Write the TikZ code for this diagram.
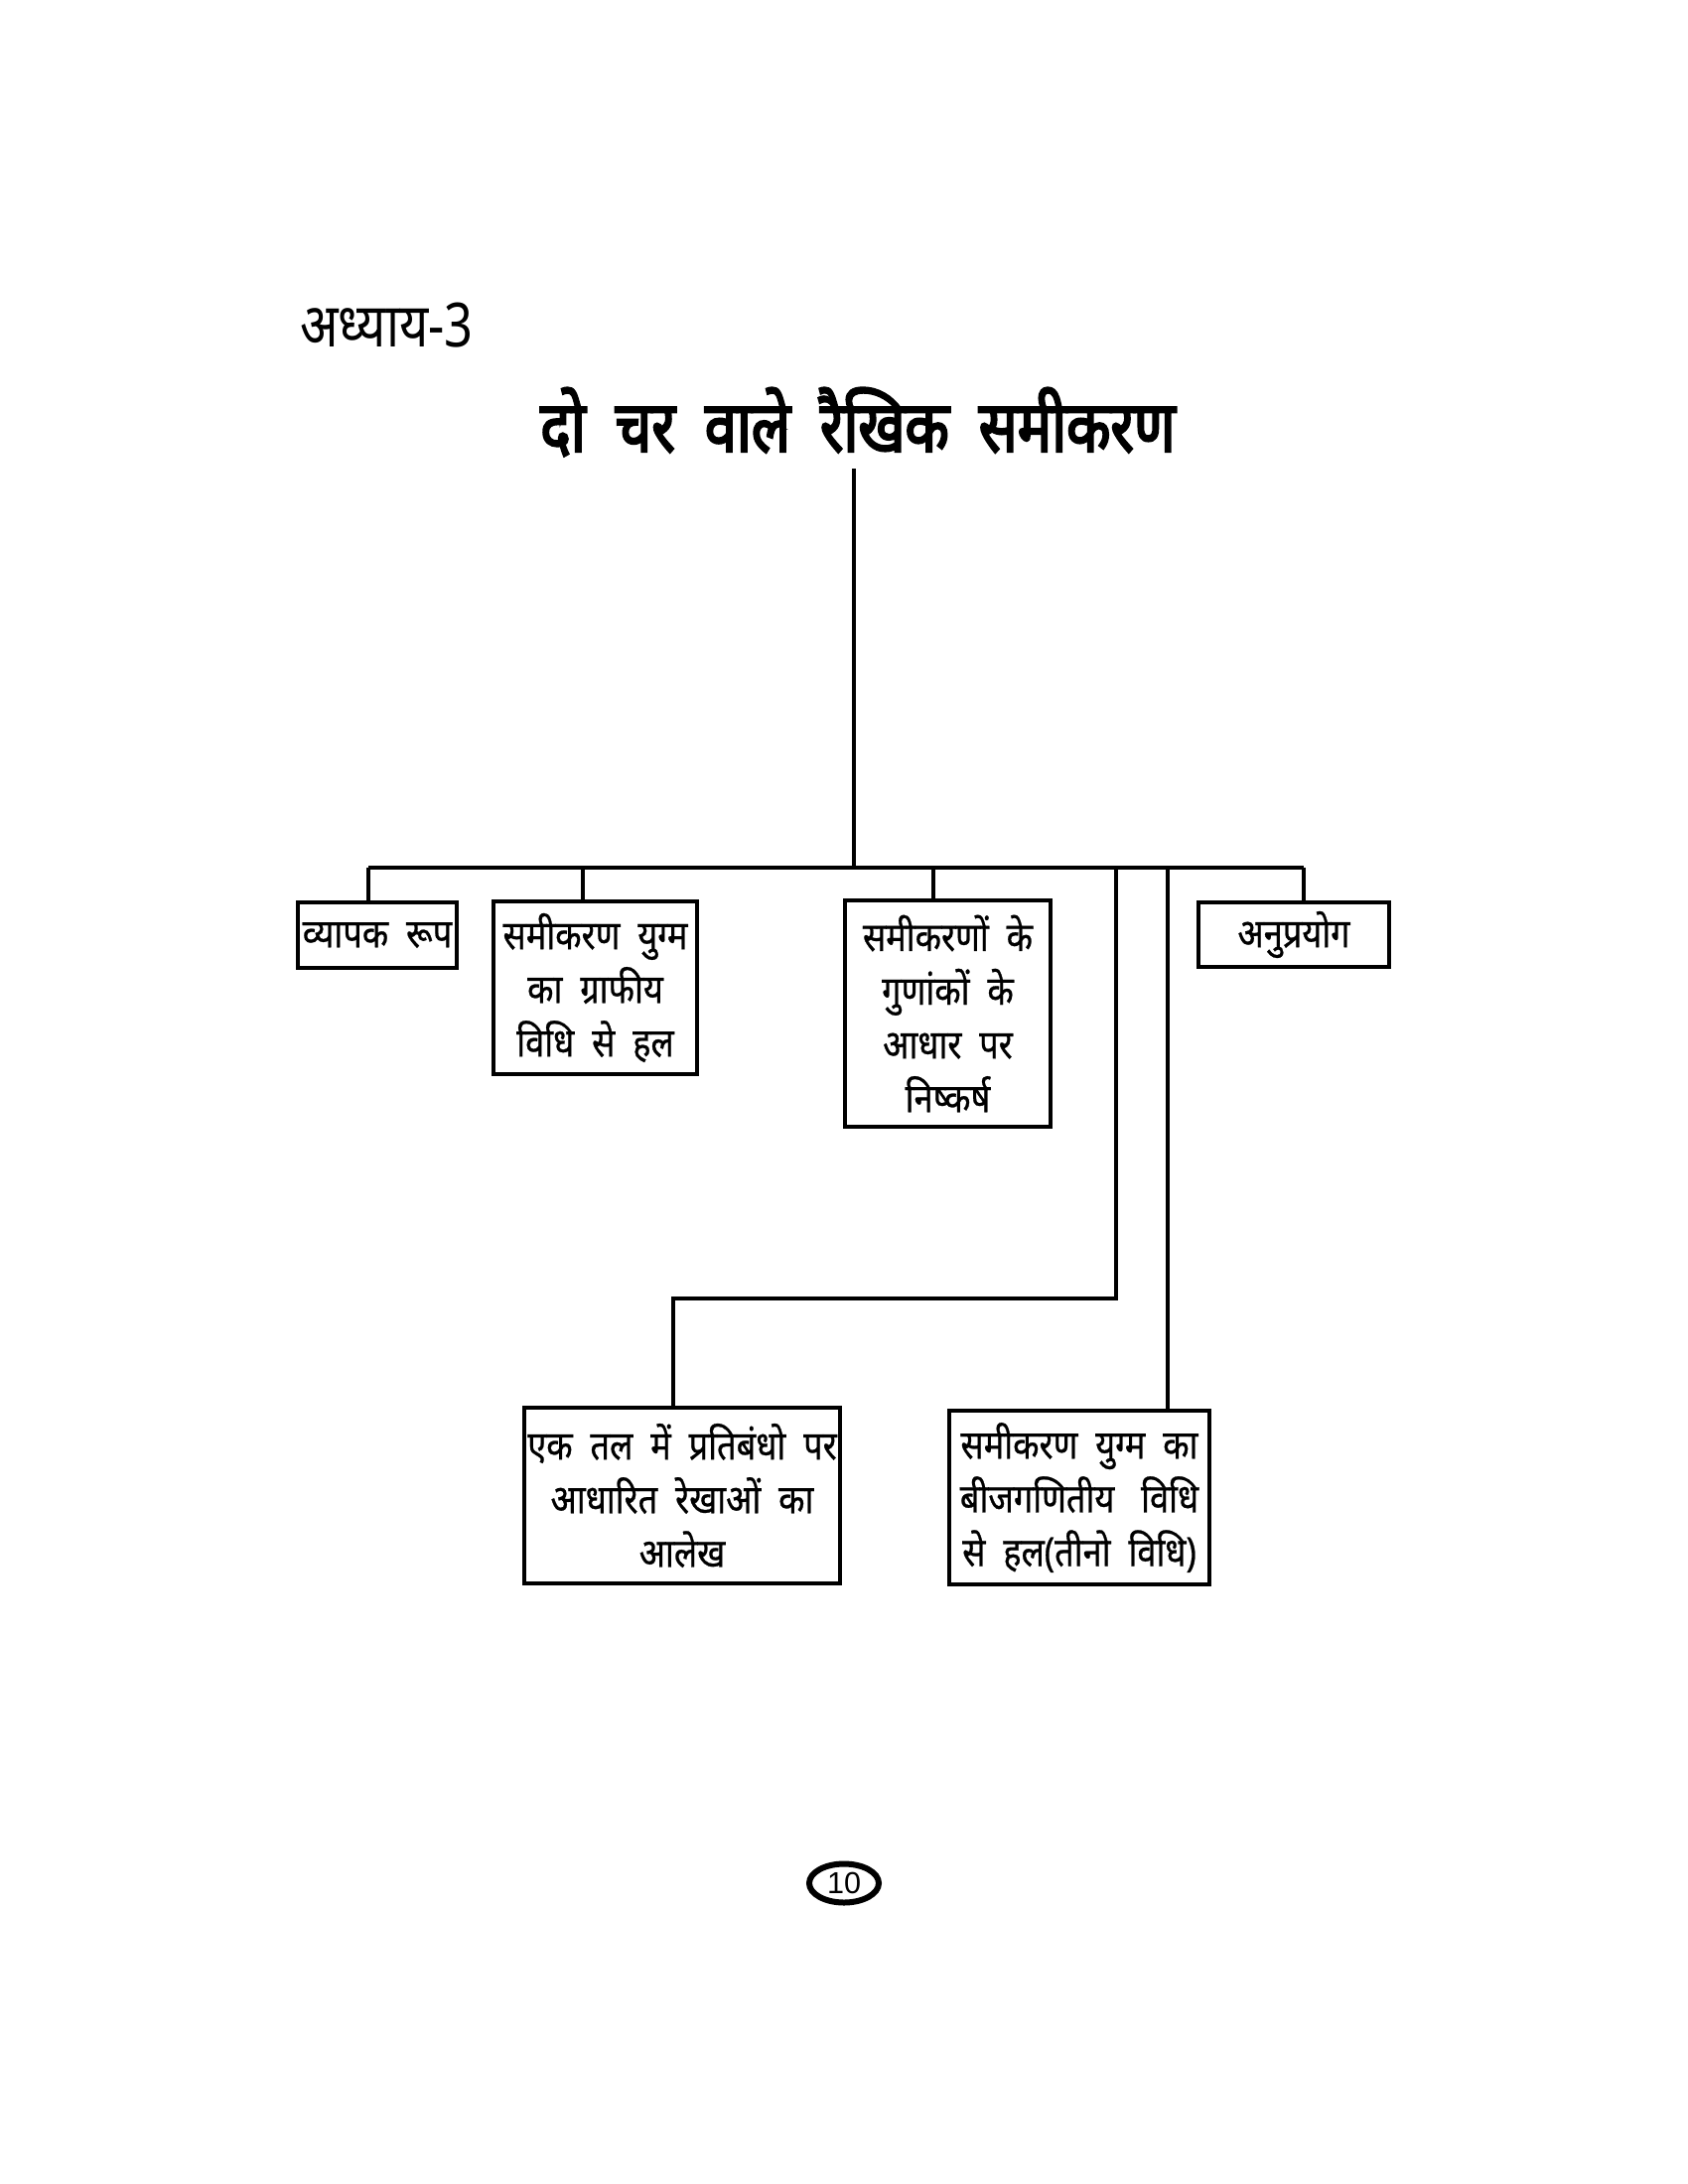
\documentclass[tikz,border=0pt]{standalone}
\usepackage{fontspec}
\usetikzlibrary{shapes.geometric}
\newfontfamily\hindi[Script=Devanagari, FakeStretch=0.85, FakeBold=0.6]{Noto Sans}
\newfontfamily\hindihead[Script=Devanagari, FakeStretch=0.82]{Noto Sans}
\newfontfamily\hindititle[Script=Devanagari, FakeStretch=0.8, FakeBold=3]{Noto Sans}
\newfontfamily\numfont{Liberation Sans}

\begin{document}
\begin{tikzpicture}[x=0.1mm, y=-0.1mm,
  box/.style={draw, line width=0.4mm, align=center, inner sep=0pt,
    font=\hindi\fontsize{11.5}{15.4}\selectfont},
  link/.style={line width=0.35mm}]
  \useasboundingbox (0,0) rectangle (1700,2200);
  % heading
  \node[anchor=base west, font=\hindihead\fontsize{17.5}{19}\selectfont] (chapter) at (290,349) {अध्याय-3};
  \node[anchor=base, font=\hindititle\fontsize{20.5}{24}\selectfont] (title) at (864,455)
    {दो\ \ चर\ \ वाले\ \ रैखिक\ \ समीकरण};
  % boxes
  \node[box, minimum width=16mm, minimum height=6.6mm] (form) at (380,942) {व्यापक\ \ रूप};
  \node[box, minimum width=20.5mm, minimum height=17.4mm] (graph) at (599.5,995)
    {समीकरण\ \ युग्म\\का\ \ ग्राफीय\\विधि\ \ से\ \ हल};
  \node[box, minimum width=20.7mm, minimum height=22.8mm] (coeff) at (954.5,1021)
    {समीकरणों\ \ के\\गुणांकों\ \ के\\आधार\ \ पर\\निष्कर्ष};
  \node[box, minimum width=19.2mm, minimum height=6.5mm] (apply) at (1303,941.5) {अनुप्रयोग};
  \node[box, minimum width=31.8mm, minimum height=17.7mm] (plane) at (687,1506.5)
    {एक\ \ तल\ \ में\ \ प्रतिबंधो\ \ पर\\आधारित\ \ रेखाओं\ \ का\\आलेख};
  \node[box, minimum width=26.2mm, minimum height=17.5mm] (algebra) at (1087,1508.5)
    {समीकरण\ \ युग्म\ \ का\\बीजगणितीय\ \ \ विधि\\से\ \ हल(तीनो\ \ विधि)};
  % connectors
  \coordinate (hub) at (860,874);
  \coordinate (busL) at (371,874);
  \coordinate (busR) at (1313,874);
  \coordinate (t2) at (587,874);
  \coordinate (t3) at (940,874);
  \coordinate (t4) at (1124,874);
  \coordinate (t5) at (1176,874);
  \coordinate (bend) at (678,1308);
  \draw[link] (hub |- title.south) -- (hub);
  \draw[link] (busL) -- (busR);
  \draw[link] (busL) -- (busL |- form.north);
  \draw[link] (t2) -- (t2 |- graph.north);
  \draw[link] (t3) -- (t3 |- coeff.north);
  \draw[link] (t4) |- (bend) -- (bend |- plane.north);
  \draw[link] (t5) -- (t5 |- algebra.north);
  \draw[link] (busR) -- (busR |- apply.north);
  % page number
  \node[draw, ellipse, line width=0.6mm, inner sep=0pt, minimum width=7mm, minimum height=3.9mm,
    font=\numfont\fontsize{8.7}{10}\selectfont] (page) at (850,1897) {10};
\end{tikzpicture}
\end{document}
